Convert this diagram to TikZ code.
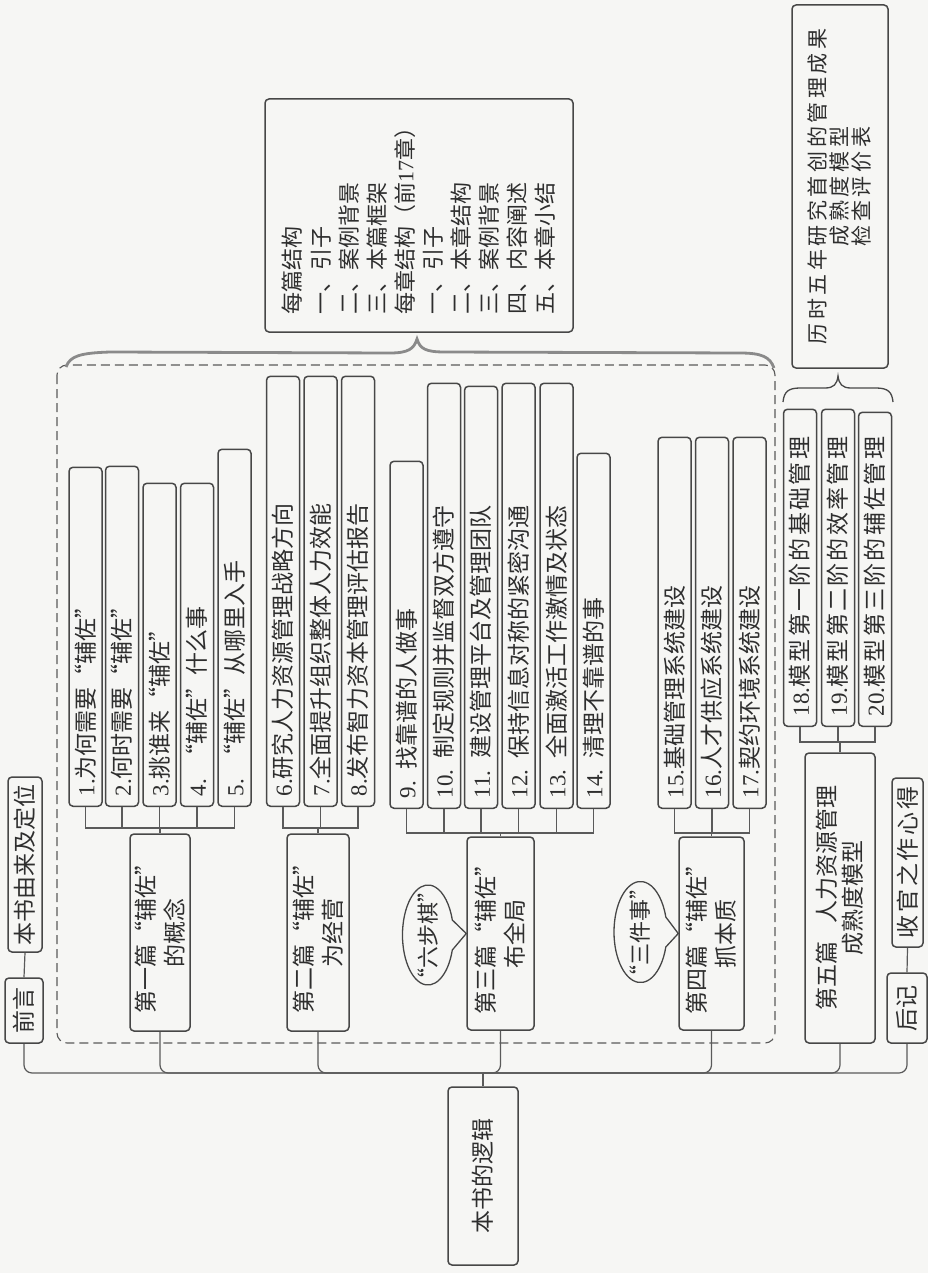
\documentclass[tikz,border=0pt]{standalone}
\usepackage{fontspec}
\setmainfont{Noto Sans CJK SC}
\newfontfamily\nf{Liberation Serif}
\usetikzlibrary{calc}
\definecolor{bgc}{HTML}{F6F6F4}
\definecolor{lc}{HTML}{474747}
\definecolor{cc}{HTML}{5A5A5A}
\definecolor{tc}{HTML}{2E2E2E}
\definecolor{brc}{HTML}{8A8A8A}
\begin{document}
\begin{tikzpicture}[x=1pt,y=-1pt,
  box/.style={draw=lc, line width=1.5pt, rounded corners=4pt, rotate=90, text=tc, inner ysep=2pt},
  leaf/.style={box, anchor=west, minimum height=33pt, inner xsep=10pt, align=left, font=\fontsize{23}{26}\selectfont},
  parent/.style={box, align=center, font=\fontsize{23}{29}\selectfont},
  single/.style={box, align=center, font=\fontsize{23}{26}\selectfont, inner xsep=4pt},
  conn/.style={draw=cc, line width=1.2pt},
  busconn/.style={conn, rounded corners=8pt},
  bub/.style={draw=lc, line width=1.3pt},
  bubtext/.style={rotate=90, text=tc, font=\fontsize{22}{26}\selectfont},
  frame/.style={draw=cc, line width=1.1pt, dash pattern=on 9pt off 5pt, rounded corners=10pt},
  bigbrace/.style={draw=brc, line width=2.8pt},
  smallbrace/.style={draw=lc, line width=1.3pt},
]
\useasboundingbox (0,0) rectangle (928,1273);
\fill[bgc] (0,0) rectangle (928,1273);

% dashed frame and braces
\draw[frame] (57,365) rectangle (775,1043);
\draw[bigbrace] (66,367) .. controls (70,356) and (80,353) .. (110,352) -- (390,353)
  .. controls (408,353) and (414,349) .. (417,339)
  .. controls (420,349) and (426,352) .. (445,352) -- (740,353)
  .. controls (762,353) and (770,357) .. (774,368);
\draw[smallbrace] (783,402) .. controls (784,392) and (788,388) .. (800,388) -- (825,388)
  .. controls (834,388) and (837,384) .. (838,376)
  .. controls (839,384) and (842,388) .. (851,388) -- (876,388)
  .. controls (888,388) and (892,392) .. (893,402);

% structure box
\node[box, font=\fontsize{22}{28.1}\selectfont, align=left, text width=197pt, inner xsep=18pt, minimum height=308pt] (struct) at (419,215.5)
 {每篇结构\\一、引子\\二、案例背景\\三、本篇框架\\每章结构（前{\nf 17}章）\\一、引子\\二、本章结构\\三、案例背景\\四、内容阐述\\五、本章小结};

% history box
\node[box, align=center, minimum width=363pt, minimum height=96pt, font=\fontsize{21}{22}\selectfont\addfontfeatures{LetterSpace=17}] (hist) at (840,186.5)
 {历时五年研究首创的管理成果\\成熟度模型\\检查评价表};

% root and singles
\node[single, minimum width=178pt, minimum height=70pt] (root) at (483,1176) {本书的逻辑};
\node[single, minimum width=65pt, minimum height=38pt] (qianyan) at (24,1010.5) {前言};
\node[single, minimum width=175pt, minimum height=34pt] (youlai) at (25,864.5) {本书由来及定位};
\node[single, minimum width=70pt, minimum height=40pt] (houji) at (907,1008) {后记};
\node[single, minimum width=169pt, minimum height=31pt, font=\fontsize{23}{26}\selectfont\addfontfeatures{LetterSpace=12}] (shouguan) at (907.5,862.5) {收官之作心得};

% parents
\node[parent, minimum width=197pt, minimum height=60pt] (p1) at (160,932.5) {第一篇“辅佐”\\的概念};
\node[parent, minimum width=197pt, minimum height=62pt] (p2) at (318,932.5) {第二篇“辅佐”\\为经营};
\node[parent, minimum width=193pt, minimum height=67pt] (p3) at (500.5,933.5) {第三篇“辅佐”\\布全局};
\node[parent, minimum width=193pt, minimum height=65pt] (p4) at (711.5,933.5) {第四篇“辅佐”\\抓本质};
\node[parent, minimum width=290pt, minimum height=70pt, font=\fontsize{23}{26}\selectfont] (p5) at (840,898) {第五篇\hspace{18pt}人力资源管理\\成熟度模型};

% leaves group 1
\node[leaf, text width=319pt] (c1) at (85.5,807) {{\nf 1.}为何需要“辅佐”};
\node[leaf, text width=320pt] (c2) at (122,807) {{\nf 2.}何时需要“辅佐”};
\node[leaf, text width=303pt] (c3) at (159.5,807) {{\nf 3.}挑谁来“辅佐”};
\node[leaf, text width=303pt] (c4) at (197,807) {{\nf 4. }“辅佐”什么事};
\node[leaf, text width=337pt] (c5) at (234.5,807) {{\nf 5. }“辅佐”从哪里入手};
% group 2
\node[leaf, text width=410pt] (c6) at (283,807) {{\nf 6.}研究人力资源管理战略方向};
\node[leaf, text width=410pt] (c7) at (320.5,807) {{\nf 7.}全面提升组织整体人力效能};
\node[leaf, text width=410pt] (c8) at (358,807) {{\nf 8.}发布智力资本管理评估报告};
% group 3
\node[leaf, text width=327pt] (c9) at (406.5,809) {{\nf 9. }找靠谱的人做事};
\node[leaf, text width=405pt] (c10) at (444,809) {{\nf 10. }制定规则并监督双方遵守};
\node[leaf, text width=402pt] (c11) at (481,809) {{\nf 11. }建设管理平台及管理团队};
\node[leaf, text width=405pt] (c12) at (518.5,809) {{\nf 12. }保持信息对称的紧密沟通};
\node[leaf, text width=405pt] (c13) at (556.5,809) {{\nf 13. }全面激活工作激情及状态};
\node[leaf, text width=335pt] (c14) at (593.5,809) {{\nf 14. }清理不靠谱的事};
% group 4
\node[leaf, text width=351pt] (c15) at (674.5,809) {{\nf 15.}基础管理系统建设};
\node[leaf, text width=351pt] (c16) at (712,809) {{\nf 16.}人才供应系统建设};
\node[leaf, text width=351pt] (c17) at (749.5,809) {{\nf 17.}契约环境系统建设};
% group 5
\node[leaf, text width=297pt, font=\fontsize{23}{26}\selectfont\addfontfeatures{LetterSpace=10}] (c18) at (800,727) {{\nf 18.}模型第一阶的基础管理};
\node[leaf, text width=297pt, font=\fontsize{23}{26}\selectfont\addfontfeatures{LetterSpace=10}] (c19) at (838,727) {{\nf 19.}模型第二阶的效率管理};
\node[leaf, text width=294pt, font=\fontsize{23}{26}\selectfont\addfontfeatures{LetterSpace=10}] (c20) at (875,727) {{\nf 20.}模型第三阶的辅佐管理};

% combs
\coordinate (g1) at (160,828);
\coordinate (g2) at (318,828);
\coordinate (g3) at (500.5,833);
\coordinate (g4) at (711.5,833);
\coordinate (g5) at (840,742);
\foreach \c in {c1,c2,c3,c4,c5} \draw[conn] (\c.west) |- (g1);
\draw[conn] (p1.east) -- (g1);
\foreach \c in {c6,c7,c8} \draw[conn] (\c.west) |- (g2);
\draw[conn] (p2.east) -- (g2);
\foreach \c in {c9,c10,c11,c12,c13,c14} \draw[conn] (\c.west) |- (g3);
\draw[conn] (p3.east) -- (g3);
\foreach \c in {c15,c16,c17} \draw[conn] (\c.west) |- (g4);
\draw[conn] (p4.east) -- (g4);
\foreach \c in {c18,c19,c20} \draw[conn] (\c.west) |- (g5);
\draw[conn] (p5.east) -- (g5);

% bus
\coordinate (bus) at (483,1073);
\foreach \c in {qianyan,p1,p2,p3,p4,p5,houji} \draw[busconn] (\c.west) |- (bus);
\draw[conn] (root.east) -- (bus);
\draw[conn] (youlai.west) -- (qianyan.east);
\draw[conn] (shouguan.west) -- (houji.east);

% speech bubbles
\node[bubtext] (b1) at (428,935) {“六步棋”};
\draw[bub] ($(b1)+(24.3,15)$) arc[start angle=-17.46, end angle=-342.54, x radius=25.5pt, y radius=50pt] -- (p3.north) -- cycle;
\node[bubtext] (b2) at (640.5,932) {“三件事”};
\draw[bub] ($(b2)+(25.3,15)$) arc[start angle=-17.28, end angle=-342.72, x radius=26.5pt, y radius=50.5pt] -- (p4.north) -- cycle;
\end{tikzpicture}
\end{document}
